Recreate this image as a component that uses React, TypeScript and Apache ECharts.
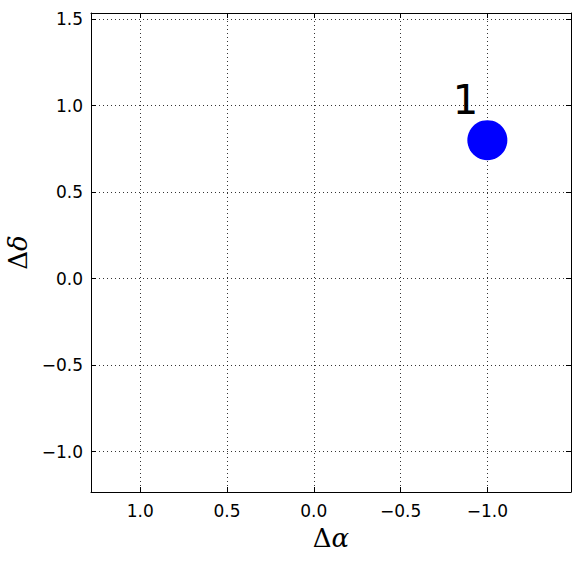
import React, { useEffect, useRef } from "react";
import * as echarts from "echarts";

const xRange = [-1.482, 1.284];
const yRange = [-1.233, 1.535];
const pointsX = [-1.0];
const pointsY = [0.8];
const pointLabels = ["1"];

const fmt = (v: number) => {
  const s = v.toFixed(1);
  return s.replace("-", "\u2212");
};

export default function App() {
  const ref = useRef<HTMLDivElement>(null);
  useEffect(() => {
    const chart = echarts.init(ref.current!, null, { renderer: "svg" });
    const font = "DejaVu Sans";
    const baseAxis = {
      type: "value" as const,
      minInterval: 0.5,
      maxInterval: 0.5,
      axisLine: { show: true, onZero: false, lineStyle: { color: "#000", width: 1 } },
      axisTick: { show: true, inside: true, length: 5, lineStyle: { color: "#000" } },
    };
    const xCommon = { ...baseAxis, min: xRange[0], max: xRange[1], inverse: true };
    const yCommon = { ...baseAxis, min: yRange[0], max: yRange[1] };
    const labelStyle = {
      fontFamily: font,
      fontSize: 17,
      color: "#000",
      showMinLabel: false,
      showMaxLabel: false,
      formatter: (v: number) => fmt(v),
    };
    const splitLine = { show: true, lineStyle: { color: "#000", width: 0.8, type: [1, 3] } };
    const nameStyle = {
      rich: {
        d: { fontFamily: "DejaVu Serif", fontSize: 26, color: "#000" },
        a: { fontFamily: "DejaVu Serif", fontStyle: "italic", fontSize: 26, color: "#000" },
      },
    };
    chart.setOption({
      animation: false,
      backgroundColor: "#fff",
      grid: { left: 91, top: 13, width: 480, height: 479, containLabel: false, outerBoundsMode: "none" },
      xAxis: [
        {
          ...xCommon,
          position: "bottom",
          axisLabel: { ...labelStyle, margin: 10 },
          splitLine,
          name: "{d|\u0394}{a|\u03b1}",
          nameLocation: "middle",
          nameGap: 33,
          nameTextStyle: nameStyle,
        },
        {
          ...xCommon,
          position: "top",
          axisLabel: { show: false },
          splitLine: { show: false },
        },
      ],
      yAxis: [
        {
          ...yCommon,
          position: "left",
          axisLabel: { ...labelStyle, margin: 8 },
          splitLine,
          name: "{d|\u0394}{a|\u03b4}",
          nameLocation: "middle",
          nameGap: 55,
          nameTextStyle: nameStyle,
        },
        {
          ...yCommon,
          position: "right",
          axisLabel: { show: false },
          splitLine: { show: false },
        },
      ],
      series: [
        {
          type: "scatter",
          xAxisIndex: 0,
          yAxisIndex: 0,
          symbol: "circle",
          symbolSize: 40,
          itemStyle: { color: "#0000ff", opacity: 1 },
          data: pointsX.map((x, i) => ({ value: [x, pointsY[i]], name: pointLabels[i] })),
          label: {
            show: true,
            position: "inside",
            offset: [-22, -40],
            formatter: (p: any) => p.name,
            fontFamily: font,
            fontSize: 40,
            color: "#000",
          },
          emphasis: { disabled: true },
        },
      ],
    });
    return () => chart.dispose();
  }, []);
  return (
    <div
      ref={ref}
      style={{ position: "fixed", left: 0, top: 0, width: 580, height: 561 }}
    />
  );
}
